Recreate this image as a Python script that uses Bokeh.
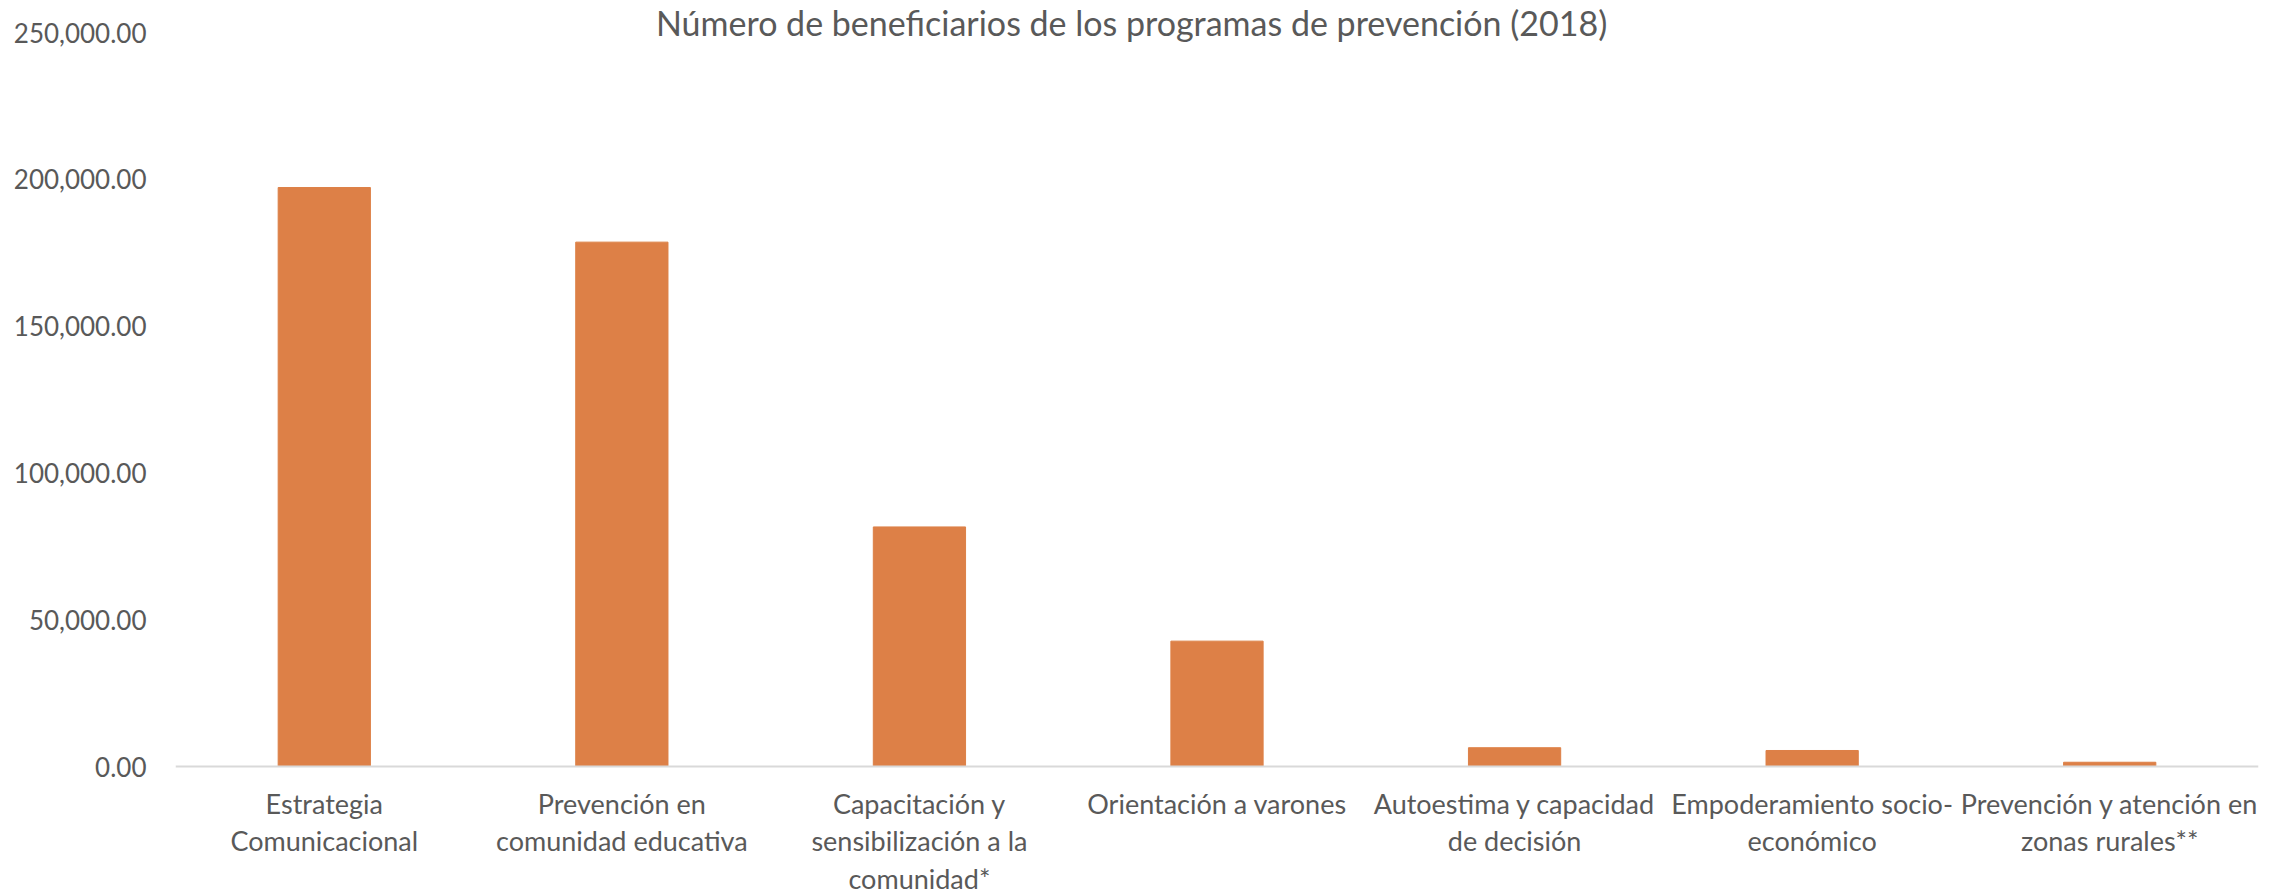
from bokeh.plotting import figure
from bokeh.models import NumeralTickFormatter, FixedTicker, Label, ColumnDataSource, CustomJSTickFormatter
from bokeh.embed import file_html
from bokeh.resources import INLINE

categories = [
    "Estrategia Comunicacional",
    "Prevención en comunidad educativa",
    "Capacitación y sensibilización a la comunidad*",
    "Orientación a varones",
    "Autoestima y capacidad de decisión",
    "Empoderamiento socio-económico",
    "Prevención y atención en zonas rurales**",
]
tick_labels = [
    "Estrategia\nComunicacional",
    "Prevención en\ncomunidad educativa",
    "Capacitación y\nsensibilización a la\ncomunidad*",
    "Orientación a varones",
    "Autoestima y capacidad\nde decisión",
    "Empoderamiento socio-\neconómico",
    "Prevención y atención en\nzonas rurales**",
]
beneficiarios = [197200, 178600, 81600, 42700, 6400, 5450, 1450]
y_ticks = [0, 50000, 100000, 150000, 200000, 250000]
title_text = "Número de beneficiarios de los programas de prevención (2018)"

FONT = "Lato"
GREY = "#595959"

src = ColumnDataSource(dict(cat=categories, val=beneficiarios))

# frame spans the full canvas height; the value axis is placed so that
# 0 sits on the category axis line and 250,000 near the top
p = figure(
    width=2287, height=891,
    x_range=categories, y_range=(-42575, 260900),
    output_backend="svg", toolbar_location=None,
    min_border_left=175, min_border_right=29, min_border_top=0, min_border_bottom=0,
)
p.vbar(x="cat", top="val", width=0.31, source=src, fill_color="#dd8047", line_color="#dd8047")

p.xgrid.visible = False
p.ygrid.visible = False
p.outline_line_color = None

p.yaxis.ticker = FixedTicker(ticks=y_ticks)
p.yaxis.formatter = NumeralTickFormatter(format="0,0.00")
p.yaxis.axis_line_color = None
p.yaxis.major_tick_line_color = None
p.yaxis.minor_tick_line_color = None
p.yaxis.major_tick_out = 0
p.yaxis.major_tick_in = 0
p.yaxis.major_label_standoff = 29
p.yaxis.major_label_text_font = FONT
p.yaxis.major_label_text_font_size = "26px"
p.yaxis.major_label_text_color = GREY

p.xaxis.fixed_location = 0
p.xaxis.formatter = CustomJSTickFormatter(
    args=dict(labels=dict(zip(categories, tick_labels))),
    code="return labels[tick] ?? tick;",
)
p.xaxis.axis_line_color = "#d9d9d9"
p.xaxis.axis_line_width = 2
p.xaxis.major_tick_line_color = None
p.xaxis.minor_tick_line_color = None
p.xaxis.major_tick_out = 0
p.xaxis.major_tick_in = 0
p.xaxis.major_label_standoff = 20
p.xaxis.major_label_text_font = FONT
p.xaxis.major_label_text_font_size = "27px"
p.xaxis.major_label_text_color = GREY
p.xaxis.major_label_text_line_height = 1.14

title = Label(x=3.213, y=250000, y_offset=10, text=title_text,
              text_align="center", text_baseline="middle",
              text_font=FONT, text_font_size="34px", text_color=GREY)
p.add_layout(title)

open("out.html", "w").write(file_html(p, INLINE))
